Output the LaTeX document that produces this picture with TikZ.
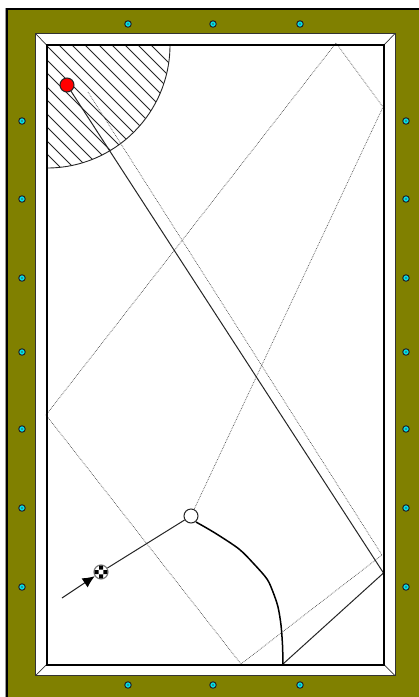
\documentclass[tikz,border=0pt]{standalone}
\usetikzlibrary{arrows.meta}
\definecolor{felt}{RGB}{128,128,0}
\definecolor{dia}{RGB}{0,225,235}
\tikzset{
  pocket/.style={circle,draw=black!85,line width=1pt,fill=dia,minimum size=6.5pt,inner sep=0pt},
  ghost/.style={draw=black!70,line width=0.7pt,densely dotted},
  shot/.style={draw=black!85,line width=1pt},
  hatch/.style={draw=black!85,line width=0.9pt},
  ball/.style={circle,draw=black!85,line width=1pt,minimum size=14pt,inner sep=0pt},
}
\begin{document}
\begin{tikzpicture}[x=1pt,y=-1pt]
\useasboundingbox (0,0) rectangle (419,697);
% frame
\fill[black!40] (4.5,8) rectangle (6,697);
\fill[black] (6,8) rectangle (419,10);
\fill[black] (6,8) rectangle (8,697);
\fill[felt] (8,10) rectangle (419,697);
\draw[fill=white,draw=black!80,line width=1pt] (35.5,33.5) rectangle (395,675.5);
\draw[black!80,line width=0.7pt] (35.5,33.5) -- (46.5,45) (395,33.5) -- (384,45) (35.5,675.5) -- (46.5,664.5) (395,675.5) -- (384,664.5);
% hatched zone
\begin{scope}
\clip (47,45) -- (170,45) arc[start angle=0,end angle=90,radius=123] -- cycle;
\foreach \c in {-106,-93,-80,-67,-54,-40,-27,-14,-1,13,26,40,53,67,80,94,107}
  \draw[hatch] (47,47+\c) -- (247,247+\c);
\end{scope}
\draw[black!85,line width=0.9pt] (170,45) arc[start angle=0,end angle=90,radius=123];
% ghost ball lines
\coordinate (g1) at (46,415);
\coordinate (g2) at (336,43);
\coordinate (g3) at (383,107);
\coordinate (g4) at (88,92);
\coordinate (g5) at (382,555);
\coordinate (g6) at (241,664);
% balls
\node[ball,fill=white] (cue) at (191,516) {};
\node[ball,fill=white,draw=black!50,line width=1.2pt] (chk) at (101,572) {};
\node[circle,fill=red,draw=black!85,line width=1pt,minimum size=14pt,inner sep=0pt] (red) at (67,85) {};
\fill[black] (99,565.6) rectangle (103,569.6) (99,574.4) rectangle (103,578.4)
  (94.6,570) rectangle (98.6,574) (103.4,570) rectangle (107.4,574);
\draw[ghost] (g1) -- (g2) -- (g3) -- (cue);
\draw[ghost] (g4) -- (g5) -- (g6) -- (g1);
% shot path
\coordinate (r1) at (383.5,573);
\coordinate (r2) at (283,664);
\coordinate (start) at (62,598);
\draw[shot] (red) -- (r1) -- (r2);
\draw[black,line width=1.5pt] plot[smooth,tension=0.5] coordinates {(196,522) (215,533) (239,549) (254,564) (267,579) (273,592) (278,607) (281,625) (282.5,645) (r2)};
\draw[shot] (chk) -- (cue);
\draw[shot,-{Latex[length=12pt,width=11pt,color=black]}] (start) -- (chk);
% pockets and sights
\foreach \x/\n in {128/a,213/b,300/c} {
  \node[pocket] (t\n) at (\x,24) {};
  \node[pocket] (b\n) at (\x,685) {};
  \fill[black!70] (\x,24) circle (0.8pt) (\x,685) circle (0.8pt);
}
\foreach \y/\n in {121/a,199/b,278/c,352/d,429/e,508/f,587/g} {
  \node[pocket] (l\n) at (22,\y) {};
  \node[pocket] (r\n) at (406,\y) {};
  \fill[black!70] (22,\y) circle (0.8pt) (406,\y) circle (0.8pt);
}
% cushion
\draw[black,line width=2pt] (46.5,45) rectangle (384,664.5);
\end{tikzpicture}
\end{document}
